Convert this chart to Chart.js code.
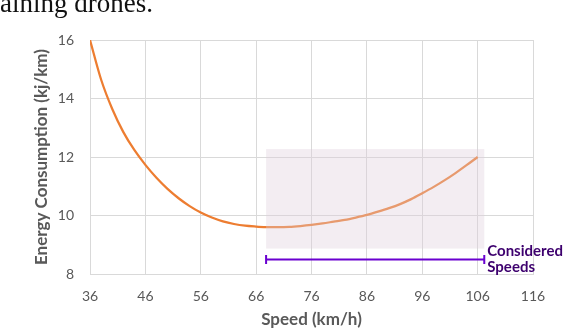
<!DOCTYPE html>
<html>
<head>
<meta charset="utf-8">
<script src="https://cdn.jsdelivr.net/npm/chart.js@4/dist/chart.umd.min.js"></script>
<style>
  html, body { margin: 0; padding: 0; background: #ffffff; overflow: hidden; }
  #wrap { position: relative; width: 566px; height: 330px; overflow: hidden; }
  #caption { position: absolute; left: 0; top: -10px; font-family: "Liberation Serif", serif; font-size: 27px; line-height: 27px; color: #111; white-space: nowrap; }
  canvas { position: absolute; left: 0; top: 0; }
</style>
</head>
<body>
<div id="wrap">
  <canvas id="c" width="566" height="330"></canvas>
  <div id="caption">aining drones.</div>
</div>
<script>
// ---- data ----
const speeds = [36, 38, 40, 42, 44, 46, 48, 50, 52, 54, 56, 58, 60, 62, 64, 66, 68, 70, 72, 74, 76, 78, 80, 82, 84, 86, 88, 90, 92, 94, 96, 98, 100, 102, 104, 106];
const energy = [16.0, 14.65, 13.65, 12.86, 12.24, 11.73, 11.29, 10.91, 10.59, 10.32, 10.10, 9.93, 9.80, 9.71, 9.65, 9.62, 9.60, 9.60, 9.61, 9.64, 9.68, 9.73, 9.79, 9.85, 9.93, 10.02, 10.13, 10.25, 10.39, 10.56, 10.76, 10.97, 11.2, 11.45, 11.72, 12.0];
const xTickValues = [36, 46, 56, 66, 76, 86, 96, 106, 116];
const yTickValues = [8, 10, 12, 14, 16];
const consideredSpeedRange = [67.8, 107.2];
const consideredBand = [8.87, 12.27];
const bracketLevel = 8.5;
const bracketLabel = ['Considered', 'Speeds'];
const xTitle = 'Speed (km/h)';
const yTitle = 'Energy Consumption (kj/km)';

const FONT = 'Lato, "Open Sans", sans-serif';
const TEXT_GREY = '#595959';
const GRID = '#D9D9D9';

const overlayPlugin = {
  id: 'considered',
  afterDatasetsDraw(chart) {
    const {ctx, scales: {x, y}} = chart;
    const x0 = x.getPixelForValue(consideredSpeedRange[0]);
    const x1 = x.getPixelForValue(consideredSpeedRange[1]);
    const yTop = y.getPixelForValue(consideredBand[1]);
    const yBot = y.getPixelForValue(consideredBand[0]);
    ctx.save();
    ctx.fillStyle = 'rgba(222, 206, 218, 0.36)';
    ctx.fillRect(x0, yTop, x1 - x0, yBot - yTop);
    const yb = Math.round(y.getPixelForValue(bracketLevel)) + 0.5;
    ctx.strokeStyle = '#6A00D0';
    ctx.lineWidth = 2;
    ctx.beginPath();
    ctx.moveTo(x0, yb); ctx.lineTo(x1, yb);
    ctx.moveTo(x0, yb - 4.5); ctx.lineTo(x0, yb + 4.5);
    ctx.moveTo(x1, yb - 4.5); ctx.lineTo(x1, yb + 4.5);
    ctx.stroke();
    ctx.fillStyle = '#3D006E';
    ctx.font = 'bold 15px ' + FONT;
    ctx.textAlign = 'left';
    ctx.textBaseline = 'alphabetic';
    ctx.fillText(bracketLabel[0], x1 + 3, yb - 4);
    ctx.fillText(bracketLabel[1], x1 + 3, yb + 12);
    ctx.restore();
  }
};

new Chart(document.getElementById('c'), {
  type: 'line',
  data: {
    datasets: [{
      data: speeds.map((s, i) => ({x: s, y: energy[i]})),
      borderColor: '#ED7D31',
      borderWidth: 2.25,
      pointRadius: 0,
      cubicInterpolationMode: 'monotone',
      fill: false
    }]
  },
  options: {
    responsive: false,
    animation: false,
    devicePixelRatio: 1,
    layout: { padding: { top: 40, right: 33, left: 0, bottom: 0 } },
    plugins: { legend: { display: false }, tooltip: { enabled: false } },
    scales: {
      x: {
        type: 'linear',
        min: 36, max: 116,
        afterBuildTicks(scale) { scale.ticks = xTickValues.map(v => ({value: v})); },
        afterFit(scale) { scale.height = 56; },
        grid: { color: GRID, lineWidth: 1, drawTicks: false },
        border: { color: GRID, width: 1 },
        ticks: { color: TEXT_GREY, font: { family: FONT, size: 14 }, padding: 14, maxRotation: 0 },
        title: { display: true, text: xTitle, color: TEXT_GREY, font: { family: FONT, size: 17, weight: 'bold' }, padding: { top: 0, bottom: 0 } }
      },
      y: {
        min: 8, max: 16,
        afterBuildTicks(scale) { scale.ticks = yTickValues.map(v => ({value: v})); },
        afterFit(scale) { scale.width = 90; },
        grid: { color: GRID, lineWidth: 1, drawTicks: false },
        border: { color: GRID, width: 1 },
        ticks: { color: TEXT_GREY, font: { family: FONT, size: 14 }, padding: 16 },
        title: { display: true, text: yTitle, color: TEXT_GREY, font: { family: FONT, size: 17, weight: 'bold' }, padding: { top: 31, bottom: 0 } }
      }
    }
  },
  plugins: [overlayPlugin]
});
</script>
</body>
</html>
